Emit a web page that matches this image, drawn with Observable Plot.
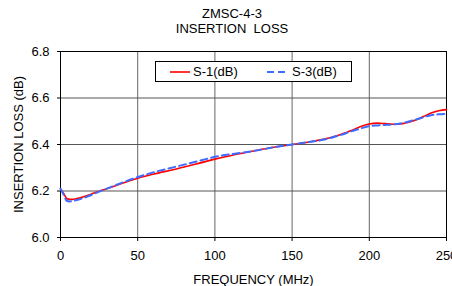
<!DOCTYPE html>
<html><head><meta charset="utf-8">
<script src="https://cdn.jsdelivr.net/npm/d3@7"></script>
<script src="https://cdn.jsdelivr.net/npm/@observablehq/plot@0.6"></script>
<style>
body{margin:0;background:#fff;font-family:"Liberation Sans",Arial,sans-serif;}
#wrap{position:relative;width:452px;height:286px;overflow:hidden;}
#title{position:absolute;left:0;top:6px;width:464px;text-align:center;font-size:13px;line-height:15px;color:#000;}
#legend{position:absolute;left:155px;top:61px;width:195px;height:19px;border:1px solid #000;background:#fff;font-size:13px;}
#legend span{position:absolute;top:2px;}
</style></head>
<body><div id="wrap"><div id="title">ZMSC-4-3<br>INSERTION&nbsp; LOSS</div></div>
<script>
const freq = [0,2,4,6,8,10,15,20,25,30,40,50,60,75,90,100,110,125,140,150,160,170,180,190,195,200,205,210,215,220,225,230,235,240,245,250];
const s1 = [6.209,6.19,6.168,6.164,6.164,6.166,6.175,6.187,6.199,6.21,6.233,6.255,6.272,6.295,6.32,6.337,6.352,6.372,6.39,6.40,6.41,6.422,6.44,6.465,6.478,6.488,6.492,6.49,6.487,6.488,6.495,6.505,6.52,6.535,6.545,6.55];
const s3 = [6.21,6.185,6.158,6.155,6.157,6.16,6.17,6.183,6.197,6.21,6.236,6.26,6.28,6.305,6.33,6.347,6.358,6.372,6.39,6.40,6.41,6.42,6.438,6.46,6.47,6.479,6.482,6.484,6.486,6.49,6.498,6.507,6.517,6.526,6.53,6.532];
const xTicks = [0,50,100,150,200,250];
const yTicks = [6.0,6.2,6.4,6.6,6.8];
const seriesNames = ["S-1(dB)","S-3(dB)"];
const xLabel = "FREQUENCY (MHz)";
const yLabel = "INSERTION LOSS (dB)";

const d1 = freq.map((f,i)=>({f, v:s1[i]}));
const d3v = freq.map((f,i)=>({f, v:s3[i]}));

const chart = Plot.plot({
  width:452, height:286,
  marginLeft:60, marginRight:6, marginTop:51, marginBottom:49,
  style:{fontFamily:"Liberation Sans, Arial, sans-serif", fontSize:"13px", color:"#000", background:"transparent", overflow:"visible"},
  x:{domain:[0,250]},
  y:{domain:[6.0,6.8]},
  marks:[
    Plot.ruleX(xTicks.slice(1,-1), {stroke:"#666", strokeWidth:1}),
    Plot.ruleY(yTicks.slice(1,-1), {stroke:"#555", strokeWidth:1}),
    Plot.frame({stroke:"#000", strokeWidth:1}),
    Plot.axisX({ticks:xTicks, tickSize:4, tickPadding:9, tickFormat:d=>String(d), label:null, fontSize:13}),
    Plot.axisY({ticks:yTicks, tickSize:3, tickPadding:8, tickFormat:d3.format(".1f"), label:null, fontSize:13}),
    Plot.text([xLabel], {frameAnchor:"bottom", dy:42, lineAnchor:"middle", textAnchor:"middle", text:d=>d, fontSize:13, fill:"#000"}),
    Plot.text([yLabel], {frameAnchor:"left", dx:-42, rotate:-90, lineAnchor:"middle", textAnchor:"middle", text:d=>d, fontSize:13, fill:"#000"}),
    Plot.line(d1, {x:"f", y:"v", stroke:"#ff0000", strokeWidth:1.6, curve:"monotone-x"}),
    Plot.line(d3v, {x:"f", y:"v", stroke:"#3f6cff", strokeWidth:2, strokeDasharray:"7,4", curve:"monotone-x"})
  ]
});
const wrap = document.getElementById("wrap");
wrap.insertBefore(chart, wrap.firstChild);
chart.style.position="absolute"; chart.style.left="0"; chart.style.top="0";

const lg = document.createElement("div");
lg.id="legend";
lg.innerHTML = `<svg width="195" height="19" style="position:absolute;left:0;top:0">
<line x1="14" x2="34" y1="10" y2="10" stroke="#ff0000" stroke-width="1.6"/>
<line x1="111" x2="131" y1="10" y2="10" stroke="#3f6cff" stroke-width="2" stroke-dasharray="7,4"/></svg>
<span style="left:37px">${seriesNames[0]}</span><span style="left:136px">${seriesNames[1]}</span>`;
wrap.appendChild(lg);
</script></body></html>
